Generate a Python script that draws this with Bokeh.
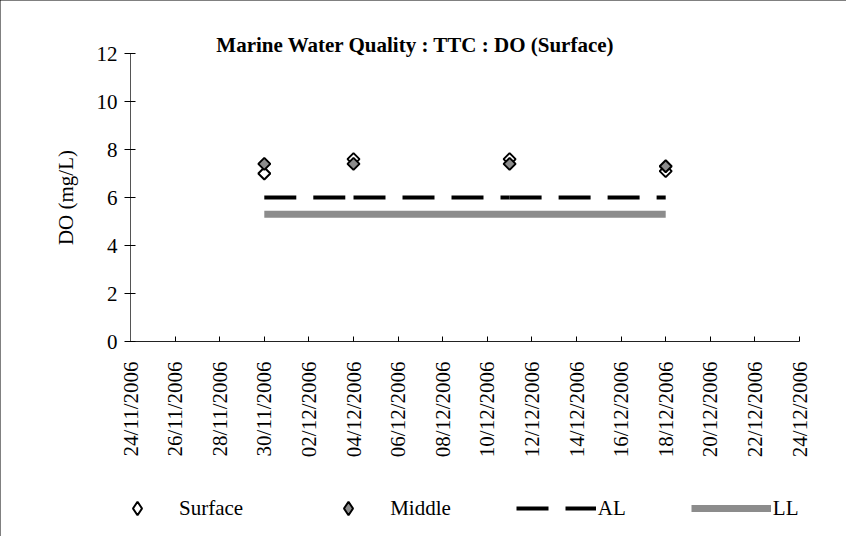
from datetime import datetime, timedelta
from math import pi

from bokeh.plotting import figure
from bokeh.models import (Range1d, FixedTicker, Legend, LegendItem, Label,
                          ColumnDataSource)
from bokeh.embed import file_html
from bokeh.resources import INLINE

# ---------------- data ----------------
sample_dates = ["30/11/2006", "04/12/2006", "11/12/2006", "18/12/2006"]
surface_do = [7.0, 7.6, 7.6, 7.1]
middle_do = [7.4, 7.4, 7.4, 7.3]
al_level = [6.0, 6.0, 6.0, 6.0]
ll_level = [5.3, 5.3, 5.3, 5.3]

x_tick_labels = ["24/11/2006", "26/11/2006", "28/11/2006", "30/11/2006",
                 "02/12/2006", "04/12/2006", "06/12/2006", "08/12/2006",
                 "10/12/2006", "12/12/2006", "14/12/2006", "16/12/2006",
                 "18/12/2006", "20/12/2006", "22/12/2006", "24/12/2006"]
y_ticks = [0, 2, 4, 6, 8, 10, 12]

title_text = "Marine Water Quality : TTC : DO (Surface)"
y_title = "DO (mg/L)"

# ---------------- helpers ----------------
def parse(d):
    return datetime.strptime(d, "%d/%m/%Y")

def to_ms(dt):
    return (dt - datetime(1970, 1, 1)).total_seconds() * 1000.0

dates = [parse(d) for d in sample_dates]
tick_ms = [to_ms(parse(t)) for t in x_tick_labels]

# ---------------- layout (pixels) ----------------
W, H = 846, 536
PL, PR = 130, 799          # plot-area left / right
PT, PB = 53, 341           # plot-area top / bottom

x0, x1 = parse(x_tick_labels[0]), parse(x_tick_labels[-1])
span = (x1 - x0).total_seconds()
px_per_s = (PR - PL) / span
x_start = x0 - timedelta(seconds=PL / px_per_s)
x_end = x1 + timedelta(seconds=(W - PR) / px_per_s)

y0, y1 = y_ticks[0], y_ticks[-1]
px_per_u = (PB - PT) / (y1 - y0)
y_start = y0 - (H - PB) / px_per_u
y_end = y1 + PT / px_per_u

FONT = "Liberation Serif"
FS = "21px"

p = figure(width=W, height=H, x_axis_type="datetime",
           x_range=Range1d(x_start, x_end),
           y_range=Range1d(y_start, y_end),
           output_backend="svg", toolbar_location=None,
           min_border_left=0, min_border_right=0,
           min_border_top=0, min_border_bottom=0)
p.title.visible = False
p.styles = {"outline": "1px solid #000000", "outline-offset": "-1px"}
p.grid.visible = False
p.outline_line_color = None
p.background_fill_color = "white"
p.border_fill_color = "white"

# x axis
xa = p.xaxis[0]
xa.fixed_location = y0
xa.bounds = (to_ms(x0), to_ms(x1))
xa.ticker = FixedTicker(ticks=tick_ms)
xa.major_label_overrides = {ms: lab for ms, lab in zip(tick_ms, x_tick_labels)}
xa.major_label_orientation = pi / 2
xa.major_label_text_font = FONT
xa.major_label_text_font_size = FS
xa.major_label_text_color = "black"
xa.major_tick_in = 5
xa.major_tick_out = 0
xa.minor_tick_line_color = None
xa.major_label_standoff = 20
xa.axis_line_color = "#222222"
xa.major_tick_line_color = "black"

# y axis
ya = p.yaxis[0]
ya.fixed_location = to_ms(x0)
ya.bounds = (y0, y1)
ya.ticker = FixedTicker(ticks=y_ticks)
ya.major_label_text_font = FONT
ya.major_label_text_font_size = FS
ya.major_label_text_color = "black"
ya.major_tick_in = 5
ya.major_tick_out = 6
ya.minor_tick_line_color = None
ya.major_label_standoff = 7
ya.axis_line_color = "#555555"
ya.major_tick_line_color = "black"
ya.axis_label = y_title
ya.axis_label_text_font = FONT
ya.axis_label_text_font_size = FS
ya.axis_label_text_font_style = "normal"
ya.axis_label_text_color = "black"
ya.axis_label_standoff = 16

# limit lines
r_ll = p.line(dates, ll_level, line_color="#8c8c8c", line_width=7)
seg = ColumnDataSource(dict(x0=dates[:-1], x1=dates[1:],
                            al0=al_level[:-1], al1=al_level[1:]))
r_al = p.segment(x0="x0", y0="al0", x1="x1", y1="al1", source=seg,
                 line_color="black", line_width=4, line_dash="32 17")

# points (diamonds = squares turned by 45 degrees)
p.scatter(dates, surface_do, marker="square", angle=pi / 4, size=8.5,
          fill_color="white", line_color="black", line_width=2)
p.scatter(dates, middle_do, marker="square", angle=pi / 4, size=8.5,
          fill_color="#8c8c8c", line_color="black", line_width=2)

# legend keys: same series as diamonds, hidden from the plot area
k_sur = p.scatter(dates, surface_do, marker="diamond", size=14,
                  fill_color="white", line_color="black", line_width=2,
                  visible=False)
k_mid = p.scatter(dates, middle_do, marker="diamond", size=14,
                  fill_color="#8c8c8c", line_color="black", line_width=2,
                  visible=False)

GH = 34
legend = Legend(items=[LegendItem(label="Surface", renderers=[k_sur]),
                       LegendItem(label="Middle", renderers=[k_mid]),
                       LegendItem(label="AL", renderers=[r_al]),
                       LegendItem(label="LL", renderers=[r_ll])],
                orientation="horizontal", location=(97, H - 508 - GH / 2),
                glyph_width=80, glyph_height=GH, label_height=GH,
                label_standoff=2, spacing=65, padding=0, margin=0,
                border_line_alpha=0, background_fill_alpha=0,
                inactive_fill_alpha=0,
                label_text_font=FONT, label_text_font_size=FS,
                label_text_color="black")
p.add_layout(legend, "center")

title = Label(x=415, y=H - 44, x_units="screen", y_units="screen",
              text=title_text, text_font=FONT, text_font_size=FS,
              text_font_style="bold", text_align="center",
              text_baseline="middle", text_color="black")
p.add_layout(title)

open("out.html", "w").write(file_html(p, INLINE))
